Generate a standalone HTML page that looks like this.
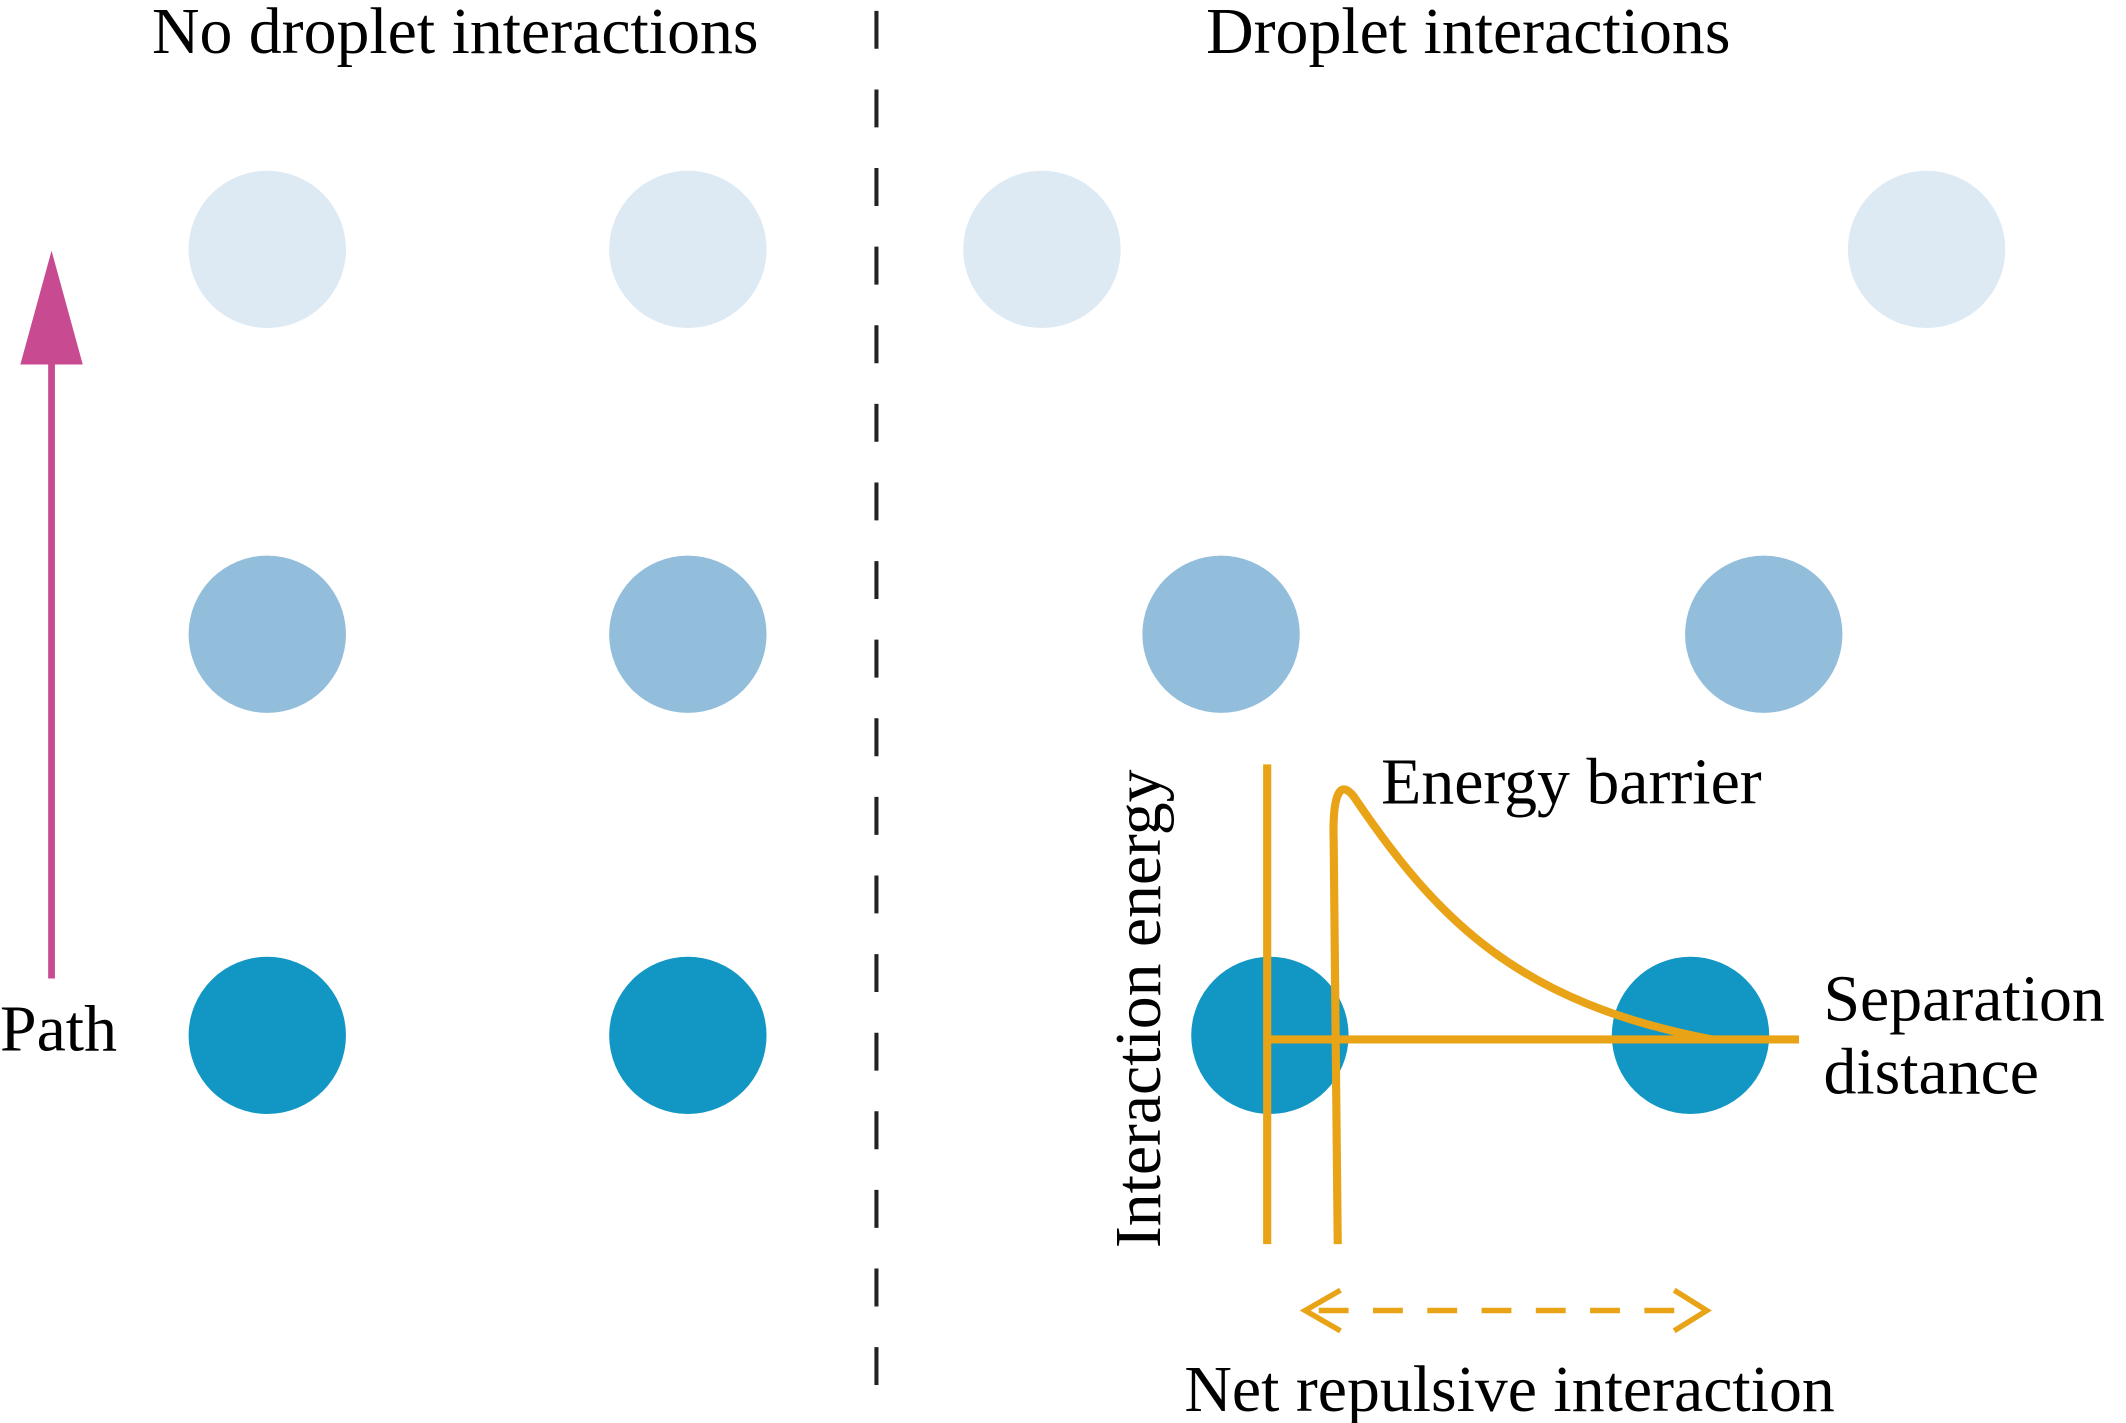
<!DOCTYPE html>
<html><head><meta charset="utf-8"><style>
html,body{margin:0;padding:0;background:#fff;}
svg{display:block;}
text{font-family:"Liberation Serif",serif;fill:#000;}
</style></head><body>
<svg width="2126" height="1423" viewBox="0 0 1567 1050" preserveAspectRatio="none" xmlns="http://www.w3.org/2000/svg">
<rect width="1567" height="1050" fill="#fff"/>
<text x="112" y="39" font-size="48.5">No droplet interactions</text>
<text x="889" y="39" font-size="48.5">Droplet interactions</text>
<line x1="646" y1="8" x2="646" y2="1035" stroke="#222" stroke-width="3" stroke-dasharray="28,30"/>
<g fill="#dde9f3">
<circle cx="197" cy="184" r="58"/><circle cx="507" cy="184" r="58"/><circle cx="768" cy="184" r="58"/><circle cx="1420" cy="184" r="58"/>
</g>
<g fill="#92bedb">
<circle cx="197" cy="468" r="58"/><circle cx="507" cy="468" r="58"/><circle cx="900" cy="468" r="58"/><circle cx="1300" cy="468" r="58"/>
</g>
<g fill="#1296c4">
<circle cx="197" cy="764" r="58"/><circle cx="507" cy="764" r="58"/><circle cx="936" cy="764" r="58"/><circle cx="1246" cy="764" r="58"/>
</g>
<line x1="38" y1="722" x2="38" y2="262" stroke="#c84b92" stroke-width="5"/>
<polygon points="15,269 61,269 38,185" fill="#c84b92"/>
<text x="0" y="775" font-size="48.5">Path</text>
<g stroke="#e8a317" stroke-width="6" fill="none">
<line x1="934" y1="564" x2="934" y2="918"/>
<line x1="934" y1="767" x2="1326" y2="767"/>
<path d="M986,918 L983,620 C982,585 988,575 998,588 C1060,680 1120,740 1262,767"/>
<path d="M988,952 L962,967 L988,982 M1234,952 L1258,967 L1234,982" stroke-width="4"/>
<line x1="972" y1="967" x2="1250" y2="967" stroke-width="4" stroke-dasharray="22,18"/>
</g>
<text x="1018" y="593" font-size="48.5">Energy barrier</text>
<text transform="translate(855,921) rotate(-90)" font-size="48.5">Interaction energy</text>
<text x="1344" y="753" font-size="48.5">Separation</text>
<text x="1344" y="807" font-size="48.5">distance</text>
<text x="873" y="1041" font-size="48.5">Net repulsive interaction</text>
</svg>
</body></html>
